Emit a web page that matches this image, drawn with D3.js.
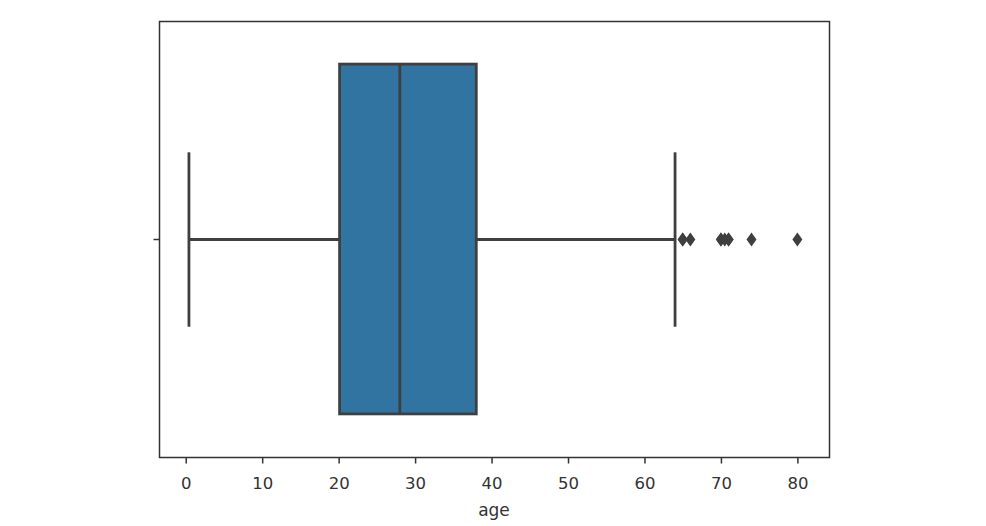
<!DOCTYPE html>
<html>
<head>
<meta charset="utf-8">
<script src="https://cdn.jsdelivr.net/npm/d3@7"></script>
<style>
  body { margin: 0; background: #fff; }
  svg { display: block; }
  text { font-family: "DejaVu Sans", sans-serif; }
</style>
</head>
<body>
<script>
// titanic age, one box
var categories = [''];
var whiskerLow = [0.42];
var q1 = [20.125];
var median = [28];
var q3 = [38];
var whiskerHigh = [64];
var outliers = [65, 65, 66, 70, 70, 70.5, 71, 71, 74, 80];
var xTicks = [0, 10, 20, 30, 40, 50, 60, 70, 80];
var xLabel = 'age';

var w = 986;
var h = 526;
var plot = { left: 159.5, right: 829.5, top: 21.5, bottom: 457.5 };
var boxFill = '#3274a1';
var lineCol = '#3f3f3f';

var svg = d3.select('body').append('svg')
  .attr('width', w)
  .attr('height', h);

var x = d3.scaleLinear()
  .domain([-3.43, 84.2])
  .range([plot.left, plot.right]);

var y = d3.scaleBand()
  .domain(categories)
  .range([plot.top, plot.bottom])
  .paddingInner(0)
  .paddingOuter(0);

var boxes = categories.map(function (c, i) {
  return { cat: c, lo: whiskerLow[i], q1: q1[i], med: median[i], q3: q3[i], hi: whiskerHigh[i] };
});

var bw = y.bandwidth() * 0.8;

var g = svg.selectAll('g.box')
  .data(boxes)
  .enter()
  .append('g')
    .attr('class', 'box')
    .attr('transform', function (d) { return 'translate(0,' + (y(d.cat) + y.bandwidth() / 2) + ')'; });

// whiskers
g.append('line')
  .attr('x1', function (d) { return x(d.lo); })
  .attr('x2', function (d) { return x(d.q1); })
  .attr('stroke', lineCol).attr('stroke-width', 2.8);
g.append('line')
  .attr('x1', function (d) { return x(d.q3); })
  .attr('x2', function (d) { return x(d.hi); })
  .attr('stroke', lineCol).attr('stroke-width', 2.8);

// caps
['lo', 'hi'].forEach(function (k) {
  g.append('line')
    .attr('x1', function (d) { return x(d[k]); })
    .attr('x2', function (d) { return x(d[k]); })
    .attr('y1', -bw / 4)
    .attr('y2', bw / 4)
    .attr('stroke', lineCol).attr('stroke-width', 2.8);
});

// box
g.append('rect')
  .attr('x', function (d) { return x(d.q1); })
  .attr('width', function (d) { return x(d.q3) - x(d.q1); })
  .attr('y', -bw / 2 - 1)
  .attr('height', bw + 1)
  .attr('fill', boxFill)
  .attr('stroke', lineCol)
  .attr('stroke-width', 2.8);

// median
g.append('line')
  .attr('x1', function (d) { return x(d.med); })
  .attr('x2', function (d) { return x(d.med); })
  .attr('y1', -bw / 2 - 1)
  .attr('y2', bw / 2)
  .attr('stroke', lineCol).attr('stroke-width', 2.8);

// outliers as thin diamonds
var cy = y(categories[0]) + y.bandwidth() / 2;
svg.selectAll('path.flier')
  .data(outliers)
  .enter()
  .append('path')
    .attr('class', 'flier')
    .attr('d', 'M0,-7L5,0L0,7L-5,0Z')
    .attr('transform', function (d) { return 'translate(' + x(d) + ',' + cy + ')'; })
    .attr('fill', lineCol);

// x axis
var xAxis = svg.append('g')
  .attr('transform', 'translate(0,' + plot.bottom + ')')
  .call(d3.axisBottom(x).tickValues(xTicks).tickSize(6).tickPadding(13.5).tickFormat(d3.format('d')));
xAxis.select('.domain').remove();
xAxis.selectAll('line').attr('stroke', '#333').attr('stroke-width', 1.5);
xAxis.selectAll('text').attr('fill', '#333').style('font-size', '16.5px');

// y axis (one tick, no label)
var yAxis = svg.append('g')
  .attr('transform', 'translate(' + plot.left + ',0)')
  .call(d3.axisLeft(y).tickSize(6));
yAxis.select('.domain').remove();
yAxis.selectAll('line').attr('stroke', '#333').attr('stroke-width', 1.5);

// frame
svg.append('rect')
  .attr('x', plot.left)
  .attr('y', plot.top)
  .attr('width', plot.right - plot.left)
  .attr('height', plot.bottom - plot.top)
  .attr('fill', 'none')
  .attr('stroke', '#333')
  .attr('stroke-width', 1.5);

svg.append('text')
  .attr('x', (plot.left + plot.right) / 2 - 0.5)
  .attr('y', 516)
  .attr('text-anchor', 'middle')
  .attr('fill', '#333')
  .style('font-size', '17px')
  .text(xLabel);
</script>
</body>
</html>
